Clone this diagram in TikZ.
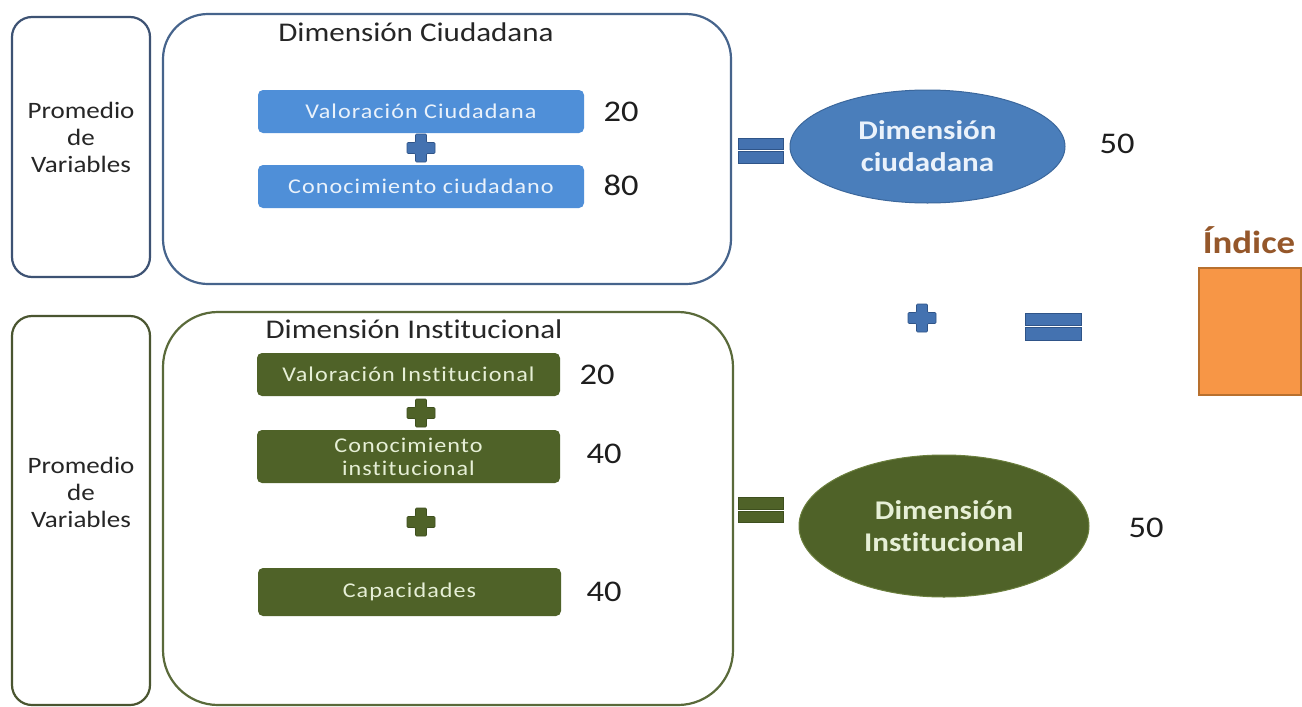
\documentclass[tikz,border=0pt]{standalone}
\usepackage{fontspec}
\setmainfont{Carlito}[FakeStretch=1.15,Ligatures=NoCommon]
\newfontfamily\boxfont{Carlito}[FakeStretch=1.15,LetterSpace=5,Ligatures=NoCommon]
\usetikzlibrary{shapes.geometric}
\definecolor{bluefr}{HTML}{46648C}
\definecolor{bluefrA}{HTML}{3D5273}
\definecolor{greenfr}{HTML}{5A6A3A}
\definecolor{greenfrA}{HTML}{4A5530}
\definecolor{boxb}{HTML}{4F8FD8}
\definecolor{boxbtext}{HTML}{EAF2FB}
\definecolor{boxg}{HTML}{4F6228}
\definecolor{boxgtext}{HTML}{E6EFD6}
\definecolor{eqb}{HTML}{4472B0}
\definecolor{eqbd}{HTML}{2F5488}
\definecolor{eqg}{HTML}{4F6228}
\definecolor{eqgd}{HTML}{3E4F1E}
\definecolor{ellb}{HTML}{4A7EBB}
\definecolor{ellbd}{HTML}{3B679C}
\definecolor{ellg}{HTML}{4F6228}
\definecolor{ellgd}{HTML}{6B7F3E}
\definecolor{titlegray}{HTML}{262626}
\definecolor{numgray}{HTML}{1E1E1E}
\definecolor{indbrown}{HTML}{95572A}
\definecolor{orangef}{HTML}{F79646}
\definecolor{oranged}{HTML}{B8702E}
\begin{document}
\begin{tikzpicture}[x=1pt,y=-1pt,
  sidebox/.style={line width=2.2pt, rounded corners=20pt, minimum width=138pt, inner sep=0pt},
  sidetext/.style={align=center, text=titlegray, font=\fontsize{23.5}{27}\selectfont},
  bigbox/.style={line width=2.2pt, inner sep=0pt},
  titletext/.style={text=titlegray, font=\fontsize{27}{30}\selectfont, inner sep=0pt},
  bluebox/.style={fill=boxb, rounded corners=5pt, minimum width=326pt, minimum height=43pt, inner sep=0pt, text=boxbtext, font=\boxfont\fontsize{21}{23}\selectfont},
  greenbox/.style={fill=boxg, rounded corners=5pt, minimum width=303pt, inner sep=0pt, align=center, text=boxgtext, font=\boxfont\fontsize{21}{23}\selectfont},
  numtext/.style={text=numgray, font=\fontsize{30}{34}\selectfont, inner sep=0pt},
  elltext/.style={align=center, font=\bfseries\fontsize{27}{32}\selectfont, inner sep=0pt},
  pics/plusmark/.style={code={\filldraw[#1, line width=0.6pt, rounded corners=1pt]
     (-5.5,-14)--(5.5,-14)--(5.5,-5.5)--(14,-5.5)--(14,5.5)--(5.5,5.5)--(5.5,14)--(-5.5,14)--(-5.5,5.5)--(-14,5.5)--(-14,-5.5)--(-5.5,-5.5)--cycle;}},
  pics/eqmark/.style={code={\filldraw[#1, line width=0.6pt]
     (-22.5,-12.5) rectangle (22.5,-1) (-22.5,1) rectangle (22.5,12.5);}}
]
\useasboundingbox (0,0) rectangle (1302,707);
\fill[white] (0,0) rectangle (1302,707);

% ---------- Dimension ciudadana ----------
\node[sidebox, draw=bluefrA, minimum height=260pt] (sbA) at (81,147) {};
\node[sidetext] (stA) at (81,137) {Promedio\\de\\Variables};
\node[bigbox, draw=bluefr, rounded corners=45pt, minimum width=568pt, minimum height=270pt] (bbA) at (447,149) {};
\node[titletext] (ttA) at (416,32) {Dimensión Ciudadana};
\node[bluebox] (vc) at (421,111.5) {Valoración Ciudadana};
\node[bluebox] (cc) at (421,186.5) {Conocimiento ciudadano};
\pic at (421,148) {plusmark={fill=eqb,draw=eqbd}};
\node[numtext] (n20a) at (621,112) {20};
\node[numtext] (n80) at (621,185) {80};
\pic at (760.5,150.5) {eqmark={fill=eqb,draw=eqbd}};
\node[ellipse, fill=ellb, draw=ellbd, line width=1pt, minimum width=275pt, minimum height=113pt, inner sep=0pt, elltext, text=boxbtext] (edc) at (927.5,146.5) {Dimensión\\ciudadana};
\node[numtext] (n50a) at (1117,144) {50};

% ---------- Dimension institucional ----------
\node[sidebox, draw=greenfrA, minimum height=389pt] (sbB) at (81,510.5) {};
\node[sidetext] (stB) at (81,492) {Promedio\\de\\Variables};
\node[bigbox, draw=greenfr, rounded corners=55pt, minimum width=570pt, minimum height=393pt] (bbB) at (448,508.5) {};
\node[titletext] (ttB) at (414,329) {Dimensión Institucional};
\node[greenbox, minimum height=43pt] (vi) at (408.5,374.5) {Valoración Institucional};
\node[greenbox, minimum height=53pt] (ci) at (408.5,456.5) {Conocimiento\\institucional};
\node[greenbox, minimum height=48pt] (cap) at (409.5,592) {Capacidades};
\pic at (421,413) {plusmark={fill=eqg,draw=eqgd}};
\pic at (421,522) {plusmark={fill=eqg,draw=eqgd}};
\node[numtext] (n20b) at (597,375) {20};
\node[numtext] (n40a) at (604,454) {40};
\node[numtext] (n40b) at (604,592) {40};
\pic at (760.5,510) {eqmark={fill=eqg,draw=eqgd}};
\node[ellipse, fill=ellg, draw=ellgd, line width=1pt, minimum width=290pt, minimum height=142pt, inner sep=0pt, elltext, text=boxgtext] (edi) at (944,526) {Dimensión\\Institucional};
\node[numtext] (n50b) at (1146,528) {50};

% ---------- Indice ----------
\pic at (922,318) {plusmark={fill=eqb,draw=eqbd}};
\pic[xscale=1.24,yscale=1.08] at (1053,326.5) {eqmark={fill=eqb,draw=eqbd}};
\node[text=indbrown, font=\bfseries\fontsize{32}{36}\selectfont, inner sep=0pt] (ind) at (1249,240) {Índice};
\node[fill=orangef, draw=oranged, line width=1.2pt, minimum width=102pt, minimum height=127pt, inner sep=0pt] (idx) at (1250,331.5) {};
\end{tikzpicture}
\end{document}
